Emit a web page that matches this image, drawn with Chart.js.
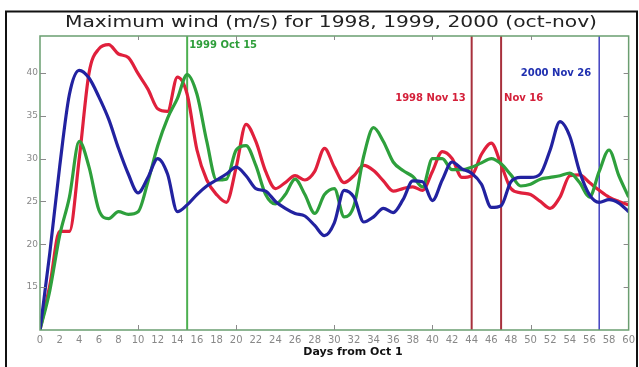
<!DOCTYPE html>
<html><head><meta charset="utf-8">
<script src="https://cdn.jsdelivr.net/npm/chart.js@4/dist/chart.umd.min.js"></script>
<style>html,body{margin:0;padding:0;background:#fff;overflow:hidden}#wrap{width:639px;height:367px;position:relative}</style>
</head><body><div id="wrap"><canvas id="c" width="639" height="367"></canvas></div>
<script>
const days = [0,1,2,3,4,5,6,7,8,9,10,11,12,13,14,15,16,17,18,19,20,21,22,23,24,25,26,27,28,29,30,31,32,33,34,35,36,37,38,39,40,41,42,43,44,45,46,47,48,49,50,51,52,53,54,55,56,57,58,59,60];
const wind2000 = [10,19,29,37.5,40.3,39.4,37.2,34.6,31.2,28.2,26,27.8,30,28.2,23.8,24.6,25.8,26.8,27.5,28.2,29,28,26.5,26.2,25,24.2,23.6,23.3,22.2,21,22.5,26.3,25.5,22.6,23.2,24.2,23.7,25.2,27.4,27.3,25.1,27.5,29.6,28.8,28.3,27,24.3,24.5,27.3,27.8,27.8,28.2,31,34.3,32.6,28.5,25.8,24.9,25.2,24.8,23.8];
const wind1999 = [10,14.6,21,25.5,32,29,24,23,23.8,23.5,23.8,27.3,31.5,34.7,37,39.8,37.5,32,27.5,27.6,31,31.5,29.2,25.8,24.7,25.8,27.6,25.8,23.6,25.8,26.5,23.2,24.5,30.3,33.6,32,29.6,28.6,27.9,26.7,30,30,28.7,28.7,29,29.5,30,29.4,28.1,26.8,27,27.6,27.8,28,28.3,27.2,25.5,28.5,31,28,25.5];
const wind1998 = [10,15.2,21.5,21.5,30,40,42.8,43.3,42.2,41.8,39.9,38.1,35.8,35.5,39.5,37.5,31,27.5,25.8,24.9,29,34,32,28.5,26.5,27.2,28,27.5,28.5,31.2,29,27.2,28,29.2,28.6,27.4,26.2,26.5,26.7,26.3,28.5,30.8,30,27.8,28,30.5,31.8,29.3,26.5,26,25.8,25,24.2,25.5,28,28.1,27.2,26.3,25.5,25,24.6];
const yTickValues = [15,20,25,30,35,40];
const eventDays = [15,44,47,57];
const eventLabels = ['1999 Oct 15','1998 Nov 13','Nov 16','2000 Nov 26'];
const titleText = 'Maximum wind (m/s) for 1998, 1999, 2000 (oct-nov)';
const xTitleText = 'Days from Oct 1';

const pts = arr => days.map((d,i)=>({x:d,y:arr[i]}));
const evStyle = [
  {line:'#4cb050', text:'#2e9e3a', align:'left', dx:2, y:45, lw:2},
  {line:'#a8303c', text:'#d4203a', align:'right', dx:-6, y:98, lw:2},
  {line:'#a8303c', text:'#d4203a', align:'left', dx:3, y:98, lw:2},
  {line:'#4040c0', text:'#2030b0', align:'right', dx:-8, y:73, lw:1.5}
];

const decor = {
  id:'decor',
  beforeDatasetsDraw(chart){
    const {ctx, chartArea:a, scales:{x}} = chart;
    ctx.save();
    eventDays.forEach((d,i)=>{
      const px = x.getPixelForValue(d);
      ctx.strokeStyle = evStyle[i].line; ctx.lineWidth = evStyle[i].lw;
      ctx.beginPath(); ctx.moveTo(px,a.top); ctx.lineTo(px,a.bottom); ctx.stroke();
    });
    ctx.restore();
  },
  afterDraw(chart){
    const {ctx, chartArea:a, scales:{x,y}} = chart;
    ctx.save();
    ctx.strokeStyle='#111'; ctx.lineWidth=2;
    ctx.strokeRect(6,11.5,631,370);
    ctx.strokeStyle='#6a9e70'; ctx.lineWidth=1.5;
    ctx.strokeRect(a.left,a.top,a.right-a.left,a.bottom-a.top);
    ctx.strokeStyle='#8a8a8a'; ctx.lineWidth=1;
    for(let d=10; d<60; d+=10){
      const px = Math.round(x.getPixelForValue(d))+0.5;
      ctx.beginPath(); ctx.moveTo(px,a.bottom); ctx.lineTo(px,a.bottom-5);
      ctx.moveTo(px,a.top); ctx.lineTo(px,a.top+4); ctx.stroke();
    }
    yTickValues.forEach(v=>{
      const py = Math.round(y.getPixelForValue(v))+0.5;
      ctx.beginPath(); ctx.moveTo(a.left,py); ctx.lineTo(a.left+6,py);
      ctx.moveTo(a.right,py); ctx.lineTo(a.right-5,py); ctx.stroke();
    });
    ctx.font='bold 10px "DejaVu Sans"'; ctx.textBaseline='middle';
    eventDays.forEach((d,i)=>{
      const s = evStyle[i];
      ctx.fillStyle = s.text; ctx.textAlign = s.align;
      ctx.fillText(eventLabels[i], x.getPixelForValue(d)+s.dx, s.y);
    });
    ctx.font='16px "DejaVu Sans"'; ctx.fillStyle='#222'; ctx.textAlign='center';
    const w = ctx.measureText(titleText).width;
    ctx.save(); ctx.translate(331,23); ctx.scale(532/w,1);
    ctx.fillText(titleText,0,0); ctx.restore();
    ctx.font='bold 11px "DejaVu Sans"'; ctx.fillStyle='#111'; ctx.textAlign='center';
    ctx.fillText(xTitleText,353,352);
    ctx.restore();
  }
};

new Chart(document.getElementById('c'),{
  type:'line',
  data:{datasets:[
    {label:'2000',data:pts(wind2000),borderColor:'#2222a0',borderWidth:3.2,pointRadius:0,cubicInterpolationMode:'monotone'},
    {label:'1999',data:pts(wind1999),borderColor:'#2ea03c',borderWidth:3.2,pointRadius:0,cubicInterpolationMode:'monotone'},
    {label:'1998',data:pts(wind1998),borderColor:'#e0203c',borderWidth:3.2,pointRadius:0,cubicInterpolationMode:'monotone'}
  ]},
  options:{
    responsive:false, devicePixelRatio:1, animation:false,
    layout:{padding:{left:0,right:9,top:36,bottom:0}},
    plugins:{legend:{display:false},tooltip:{enabled:false},title:{display:false}},
    scales:{
      x:{type:'linear',min:0,max:60,
        grid:{display:false,drawTicks:false},border:{display:false},
        ticks:{stepSize:2,autoSkip:false,maxRotation:0,padding:4,color:'#888',font:{family:'DejaVu Sans',size:10}},
        afterFit(s){s.height=37;}},
      y:{min:10,max:44.3,
        grid:{display:false,drawTicks:false},border:{display:false},
        ticks:{stepSize:5,includeBounds:false,padding:2,color:'#888',font:{family:'DejaVu Sans',size:9},
          callback:v=>yTickValues.includes(v)?String(v):''},
        afterFit(s){s.width=40;}}
    }
  },
  plugins:[decor]
});
</script></body></html>
